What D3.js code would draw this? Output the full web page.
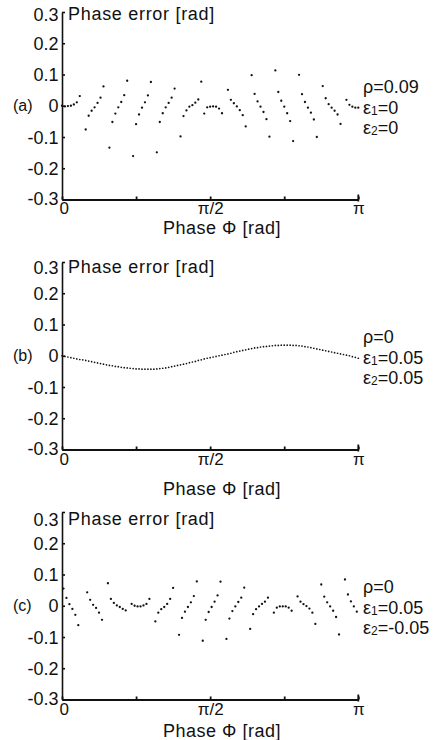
<!DOCTYPE html>
<html><head><meta charset="utf-8">
<script src="https://cdn.jsdelivr.net/npm/d3@7"></script>
<style>
body{margin:0;background:#fff}
svg{display:block}
text{font-family:"Liberation Sans",Arial,sans-serif;fill:#111}
</style>
</head><body>
<svg id="chart" width="442" height="740"></svg>
<script>
// Phase positions in units of π/100 ; errors in rad
const phaseA = [0,1,2,3,4,5,6, 8,9,10,11,12,13,14, 16,17,18,19,20,21,22, 24,25,26,27,28,29,30,
  32,33,34,35,36,37,38, 40,41,42,43,44,45,46,47,48,49,50,51,52,53,54, 56,57,58,59,60,61,62,
  64,65,66,67,68,69,70, 72,73,74,75,76,77,78, 80,81,82,83,84,85,86, 88,89,90,91,92,93,94, 96,97,98,99,100];
const errorA = [0.000,-0.002,-0.001,0.000,0.004,0.011,0.031,
  -0.076,-0.032,-0.016,-0.005,0.009,0.026,0.062,
  -0.134,-0.052,-0.025,-0.005,0.012,0.034,0.080,
  -0.161,-0.059,-0.028,-0.006,0.011,0.033,0.076,
  -0.149,-0.052,-0.024,-0.005,0.009,0.026,0.055,
  -0.098,-0.033,-0.015,-0.003,0.002,0.010,0.020,0.077,-0.025,-0.005,-0.003,-0.002,-0.003,-0.009,-0.024,
  0.051,0.019,0.008,-0.002,-0.014,-0.030,-0.066,
  0.098,0.038,0.014,-0.003,-0.020,-0.043,-0.099,
  0.113,0.044,0.016,-0.003,-0.024,-0.049,-0.113,
  0.099,0.037,0.012,-0.006,-0.022,-0.044,-0.100,
  0.063,0.024,0.005,-0.006,-0.016,-0.028,-0.058,
  0.019,0.003,-0.003,-0.006,-0.006];

const phaseB = [0,1,2,3,4,5,6,7,8,9,10,11,12,13,14,15,16,17,18,19,20,21,22,23,24,25,26,27,28,29,
  30,31,32,33,34,35,36,37,38,39,40,41,42,43,44,45,46,47,48,49,50,51,52,53,54,55,56,57,58,59,
  60,61,62,63,64,65,66,67,68,69,70,71,72,73,74,75,76,77,78,79,80,81,82,83,84,85,86,87,88,89,
  90,91,92,93,94,95,96,97,98,99,100];
const errorB = [0.000,-0.002,-0.004,-0.006,-0.008,-0.010,-0.012,-0.013,-0.015,-0.017,
  -0.019,-0.021,-0.023,-0.025,-0.027,-0.029,-0.031,-0.032,-0.034,-0.035,
  -0.037,-0.038,-0.039,-0.040,-0.041,-0.042,-0.042,-0.043,-0.043,-0.043,
  -0.043,-0.043,-0.042,-0.041,-0.040,-0.039,-0.037,-0.035,-0.033,-0.031,
  -0.029,-0.027,-0.025,-0.022,-0.020,-0.018,-0.015,-0.013,-0.010,-0.008,
  -0.006,-0.004,-0.002,0.000,0.002,0.004,0.006,0.008,0.011,0.013,
  0.015,0.017,0.019,0.021,0.023,0.025,0.026,0.028,0.029,0.030,
  0.031,0.032,0.033,0.033,0.034,0.034,0.034,0.034,0.033,0.033,
  0.032,0.031,0.029,0.028,0.026,0.024,0.022,0.020,0.018,0.016,
  0.014,0.012,0.010,0.008,0.006,0.004,0.002,0.000,-0.003,-0.005,
  -0.008];

const phaseC = [0.5,1.5,2.5,3.5,4.5,5.5, 8.5,9.5,10.5,11.5,12.5,13.5, 15.5,16.5,17.5,18.5,19.5,20.5,21.5,
  23.5,24.5,25.5,26.5,27.5,28.5,29.5, 31.5,32.5,33.5,34.5,35.5,36.5,37.5, 39.5,40.5,41.5,42.5,43.5,44.5,45.5,
  47.5,48.5,49.5,50.5,51.5,52.5,53.5, 55.5,56.5,57.5,58.5,59.5,60.5,61.5, 63.5,64.5,65.5,66.5,67.5,68.5,69.5,
  71.5,72.5,73.5,74.5,75.5,76.5,77.5, 79.5,80.5,81.5,82.5,83.5,84.5,85.5, 87.5,88.5,89.5,90.5,91.5,92.5,93.5,
  95.5,96.5,97.5,98.5,99.5];
const errorC = [0.055,0.025,0.005,-0.010,-0.029,-0.062,
  0.043,0.019,0.003,-0.007,-0.022,-0.045,
  0.072,0.022,0.009,0.001,-0.004,-0.010,-0.015,
  0.006,0.000,-0.002,-0.002,0.001,0.006,0.022,
  -0.050,-0.022,-0.011,-0.004,0.006,0.022,0.057,
  -0.093,-0.039,-0.019,-0.004,0.011,0.031,0.078,
  -0.112,-0.045,-0.020,-0.004,0.013,0.033,0.077,
  -0.106,-0.041,-0.017,-0.002,0.012,0.026,0.058,
  -0.074,-0.027,-0.011,-0.002,0.006,0.013,0.026,
  -0.022,-0.006,-0.002,-0.002,-0.002,-0.006,-0.016,
  0.030,0.013,0.005,-0.001,-0.009,-0.022,-0.058,
  0.068,0.029,0.011,-0.002,-0.016,-0.036,-0.092,
  0.084,0.036,0.014,-0.002,-0.019];

const yTicks = [0.3,0.2,0.1,0,-0.1,-0.2,-0.3];
const yTickLabels = ["0.3","0.2","0.1","0","-0.1","-0.2","-0.3"];
const xTicks = [0,25,50,75,100];
const xTickLabels = ["0","","π/2","","π"];
const panelLabels = ["(a)","(b)","(c)"];
const rhoValues = ["0.09","0","0"];
const eps1Values = ["0","0.05","0.05"];
const eps2Values = ["0","0.05","-0.05"];
const yTitle = "Phase error [rad]";
const xTitle = "Phase Φ [rad]";

const svg = d3.select("#chart");
const layout = [
  {zero:105, topBase:20,  xTickBase:214, xTitleBase:234, r:1.15},
  {zero:355, topBase:273, xTickBase:464.5, xTitleBase:495, r:0.85},
  {zero:605, topBase:525, xTickBase:714.5, xTitleBase:737, r:1.15}
];
const series = [[phaseA,errorA],[phaseB,errorB],[phaseC,errorC]];
const INK = "#111";

layout.forEach((p,i)=>{
  const x = d3.scaleLinear().domain([0,100]).range([62,358.3]);
  const y = d3.scaleLinear().domain([-0.3,0.3]).range([p.zero+94.5, p.zero-93]);
  const g = svg.append("g");

  // y axis
  const yg = g.append("g").attr("transform","translate(62,0)")
    .call(d3.axisLeft(y).tickValues(yTicks).tickFormat((d,j)=>yTickLabels[j])
      .tickSizeInner(-3).tickSizeOuter(0).tickPadding(3.5));
  yg.attr("font-family",null).attr("font-size",null);
  yg.select(".domain").attr("stroke",INK).attr("stroke-width",1.6);
  yg.selectAll(".tick line").attr("stroke",INK).attr("stroke-width",1.6);
  yg.selectAll(".tick text").attr("font-size",18).attr("fill",INK).attr("dy",null)
    .attr("y",d=> d===0.3 ? p.topBase - y(0.3) : (d===-0.3 ? 4.5 : 6.2));

  // x axis
  const xg = g.append("g").attr("transform",`translate(0,${y(-0.3)})`)
    .call(d3.axisBottom(x).tickValues(xTicks).tickFormat((d,j)=>xTickLabels[j])
      .tickSizeInner(-3).tickSizeOuter(0).tickPadding(3));
  xg.attr("font-family",null).attr("font-size",null);
  xg.select(".domain").attr("stroke",INK).attr("stroke-width",2.2);
  xg.selectAll(".tick line").attr("stroke",INK).attr("stroke-width",1.8);
  xg.selectAll(".tick text").attr("font-size",17).attr("fill",INK).attr("dy",null)
    .attr("y",p.xTickBase - y(-0.3))
    .attr("dx",d=> d===0 ? 1.8 : 0);
  xg.append("line").attr("x1",x(100)).attr("x2",x(100)).attr("y1",-5).attr("y2",2)
    .attr("stroke",INK).attr("stroke-width",1.8);

  // dots
  const [ph, er] = series[i];
  g.append("g").selectAll("circle").data(d3.zip(ph, er)).join("circle")
    .attr("cx",d=>x(d[0])).attr("cy",d=>y(d[1])).attr("r",p.r).attr("fill",INK);

  // titles
  g.append("text").attr("x",68).attr("y",p.topBase).attr("font-size",18)
    .attr("letter-spacing",0.7).text(yTitle);
  g.append("text").attr("x",222).attr("y",p.xTitleBase).attr("font-size",18)
    .attr("text-anchor","middle").attr("letter-spacing",0.5).text(xTitle);
  g.append("text").attr("x",13).attr("y",p.zero+5.5).attr("font-size",16).text(panelLabels[i]);

  // parameters
  g.append("text").attr("x",363).attr("y",p.zero-12).attr("font-size",18).text("ρ=" + rhoValues[i]);
  const e1 = g.append("text").attr("x",363).attr("y",p.zero+9).attr("font-size",18);
  e1.append("tspan").text("ε");
  e1.append("tspan").attr("font-size",12).attr("dy",1).text("1");
  e1.append("tspan").attr("dy",-1).text("=" + eps1Values[i]);
  const e2 = g.append("text").attr("x",363).attr("y",p.zero+28.5).attr("font-size",18);
  e2.append("tspan").text("ε");
  e2.append("tspan").attr("font-size",12).attr("dy",1).text("2");
  e2.append("tspan").attr("dy",-1).text("=" + eps2Values[i]);
});
</script>
</body></html>
